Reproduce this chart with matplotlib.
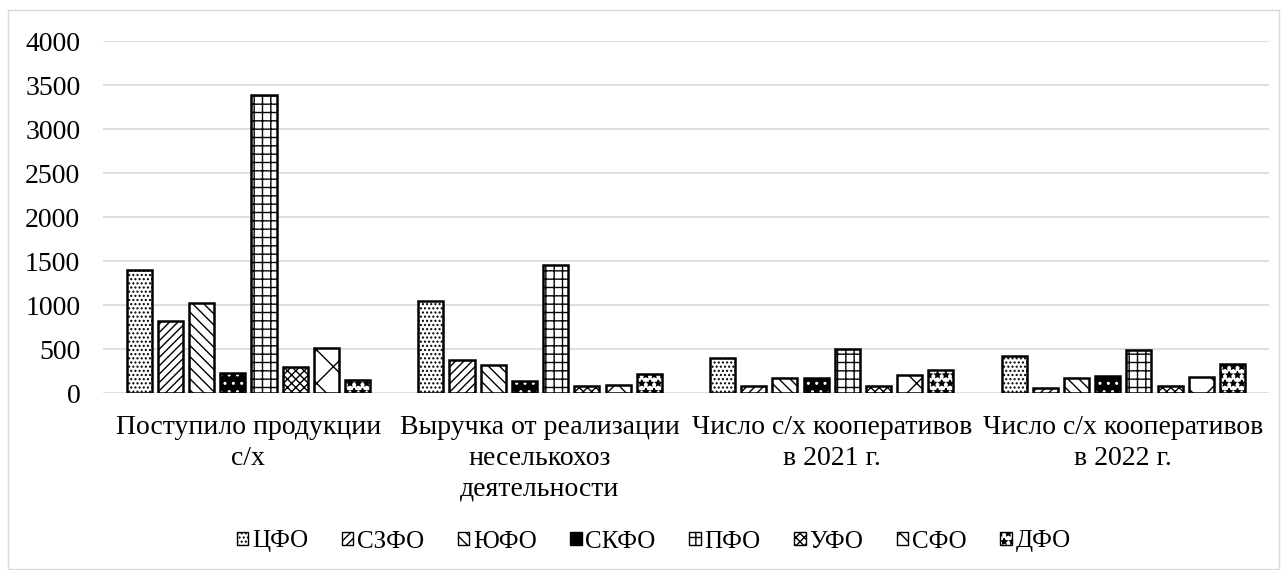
import numpy as np
import matplotlib.pyplot as plt
import matplotlib.patches as mpatches

plt.rcParams['font.family'] = ['Liberation Serif', 'DejaVu Serif']
plt.rcParams['hatch.linewidth'] = 1.0

# 데이터
categories = ['Поступило продукции\nс/х',
              'Выручка от реализации\nнеселькохоз\nдеятельности',
              'Число с/х кооперативов\nв 2021 г.',
              'Число с/х кооперативов\nв 2022 г.']
districts = ['ЦФО', 'СЗФО', 'ЮФО', 'СКФО', 'ПФО', 'УФО', 'СФО', 'ДФО']
cfo = [1400, 1050, 400, 420]
szfo = [820, 380, 75, 60]
yufo = [1020, 320, 165, 165]
skfo = [230, 140, 175, 190]
pfo = [3390, 1460, 505, 490]
ufo = [300, 75, 75, 80]
sfo = [510, 95, 205, 180]
dfo = [150, 220, 260, 335]
series = [cfo, szfo, yufo, skfo, pfo, ufo, sfo, dfo]

# 해칭 스타일 (면색, 해치, 해치색)
styles = [
    ('white', '....', 'black'),
    ('white', '////', 'black'),
    ('white', '\\\\\\', 'black'),
    ('black', '..', 'white'),
    ('white', '++', 'black'),
    ('white', 'xxxx', 'black'),
    ('white', 'x', 'black'),
    ('white', '**', 'black'),
]

fig = plt.figure(figsize=(12.82, 5.70), dpi=100)
ax = fig.add_axes([0.080, 0.3105, 0.910, 0.6175])

# 바깥 테두리
fig.patches.append(mpatches.Rectangle((0.006, 0.002), 0.992, 0.98, transform=fig.transFigure,
                                      fill=False, edgecolor='#d9d9d9', linewidth=1))

x = np.arange(len(categories))
n = len(series)
slot = 0.107
width = 0.086
for i, vals in enumerate(series):
    fc, hatch, hc = styles[i]
    offs = (i - (n - 1) / 2) * slot
    ax.bar(x + offs, vals, width, facecolor=fc, hatch=hatch,
           edgecolor=hc, linewidth=0, zorder=3)
    # 검은 테두리 따로
    ax.bar(x + offs, vals, width, fill=False, edgecolor='black', linewidth=1.8, zorder=4)

ax.set_ylim(0, 4000)
ax.set_xlim(-0.5, len(categories) - 0.5)
ax.set_yticks(np.arange(0, 4001, 500))
ax.yaxis.grid(True, color='#d9d9d9', linewidth=1.2, zorder=0)
ax.set_axisbelow(True)
for s in ax.spines.values():
    s.set_visible(False)
ax.tick_params(axis='y', length=0, labelsize=20, pad=16)
ax.tick_params(axis='x', length=0, labelsize=20, pad=16)
ax.set_xticks(x)
ax.set_xticklabels(categories, linespacing=1.3)

# 범례
handles = []
for i in range(n):
    fc, hatch, hc = styles[i]
    handles.append(mpatches.Patch(facecolor=fc, hatch=hatch, edgecolor='black', label=districts[i]))
fig.legend(handles=handles, loc='center', bbox_to_anchor=(0.51, 0.05), ncol=8, frameon=False,
           fontsize=18, handlelength=0.45, handleheight=0.45, handletextpad=0.15, columnspacing=1.35)

plt.savefig('out.png', dpi=100)
